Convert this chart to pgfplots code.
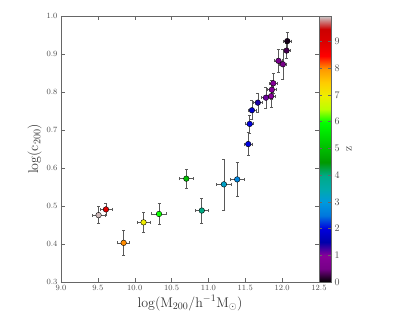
\documentclass[border=0pt]{standalone}
\usepackage{pgfplots}
\pgfplotsset{compat=1.18}
\usepackage{pgfplotstable}

\pgfplotstableread{
x      y      ex    ey     z
9.51   0.476  0.09  0.022  9.9
9.61   0.491  0.08  0.016  8.9
9.85   0.403  0.08  0.034  8.0
10.12  0.457  0.09  0.026  7.0
10.33  0.479  0.10  0.028  6.0
10.70  0.572  0.09  0.025  5.0
10.91  0.488  0.09  0.033  4.0
11.21  0.557  0.10  0.067  3.2
11.39  0.570  0.09  0.045  2.7
11.54  0.663  0.055 0.030  2.0
11.56  0.716  0.055 0.024  2.0
11.59  0.752  0.055 0.025  1.8
11.67  0.772  0.06  0.025  1.4
11.78  0.785  0.06  0.028  1.1
11.85  0.789  0.06  0.030  1.0
11.86  0.806  0.06  0.025  1.0
11.88  0.823  0.05  0.026  1.0
11.95  0.882  0.05  0.031  0.6
12.01  0.873  0.05  0.040  0.5
12.06  0.909  0.05  0.020  0.3
12.07  0.934  0.05  0.024  0.1
}\halos

\begin{document}
\begin{tikzpicture}
\pgfplotsset{
  colormap={nipy}{rgb=(0,0,0) rgb=(0.4667,0,0.5333) rgb=(0.5333,0,0.6)
    rgb=(0,0,0.6667) rgb=(0,0,0.8667) rgb=(0,0.4667,0.8667) rgb=(0,0.6,0.8667)
    rgb=(0,0.6667,0.6667) rgb=(0,0.6667,0.5333) rgb=(0,0.6,0) rgb=(0,0.7333,0)
    rgb=(0,0.8667,0) rgb=(0,1,0) rgb=(0.7333,1,0) rgb=(0.9333,0.9333,0)
    rgb=(1,0.8,0) rgb=(1,0.6,0) rgb=(1,0,0) rgb=(0.8667,0,0) rgb=(0.8,0,0)
    rgb=(0.8,0.8,0.8)},
}
\begin{axis}[
  scale only axis,
  width=258pt, height=266pt,
  xmin=9.0, xmax=12.5, ymin=0.3, ymax=1.0,
  xtick={9.0,9.5,...,12.5}, ytick={0.3,0.4,...,1.0},
  xticklabel style={/pgf/number format/.cd, fixed, fixed zerofill, precision=1},
  yticklabel style={/pgf/number format/.cd, fixed, fixed zerofill, precision=1},
  tick label style={font=\fontsize{8}{9}\selectfont, text=black!70},
  tick align=inside, major tick length=4pt,
  axis line style={black!60}, every tick/.style={black!60},
  xlabel={log(M$_{200}$/h$^{-1}$M$_\odot$)},
  ylabel={log(c$_{200}$)},
  label style={font=\fontsize{14}{16}\selectfont, text=black!80},
  xlabel style={yshift=2pt},
  ylabel style={yshift=-2pt},
  colormap name=nipy,
  point meta min=0, point meta max=9.95,
  colorbar,
  colorbar style={
    at={(1,1)}, anchor=north west, xshift=0pt,
    width=12pt,
    ytick={0,1,...,9},
    yticklabel style={font=\fontsize{10}{11}\selectfont, text=black!70},
    ylabel={z}, ylabel style={font=\fontsize{12}{13}\selectfont, text=black!80},
    axis line style={black!60}, major tick length=3pt,
  },
]
\addplot[
  scatter, only marks, mark=*, mark size=2.8pt,
  point meta=explicit,
  scatter/use mapped color={draw=black, fill=mapped color},
  error bars/.cd,
    x dir=both, x explicit, y dir=both, y explicit,
    error bar style={black!65, line width=0.6pt},
    error mark options={rotate=90, mark size=1.5pt, black!65, line width=0.6pt},
] table[x=x, y=y, x error=ex, y error=ey, meta=z] {\halos};
\end{axis}
\path[use as bounding box] (-61pt,-50pt) rectangle (338pt,282pt);
\end{tikzpicture}
\end{document}
